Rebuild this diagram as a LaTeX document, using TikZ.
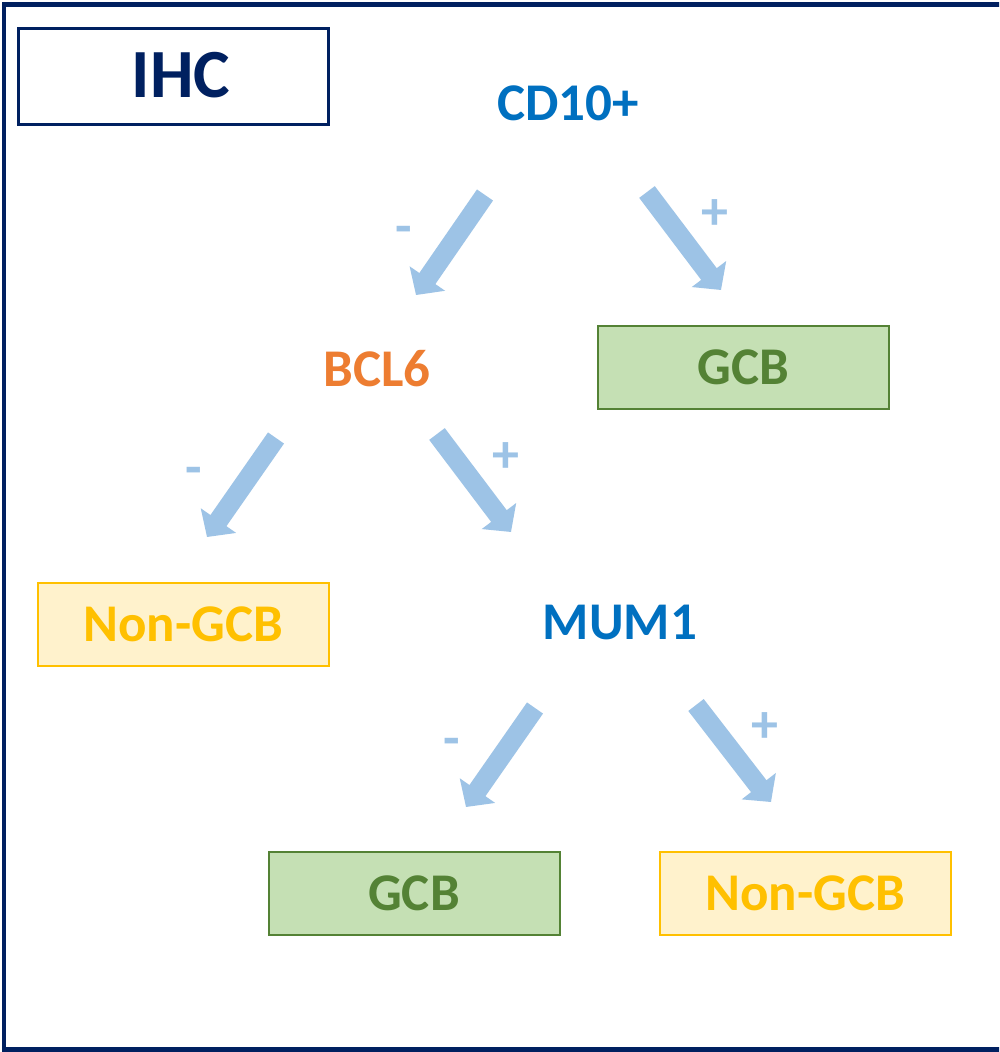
\documentclass[tikz,border=0pt]{standalone}
\usepackage{fontspec}
\setmainfont{Carlito}
\usetikzlibrary{arrows.meta}
\definecolor{navy}{HTML}{002060}
\definecolor{mblue}{HTML}{0070C0}
\definecolor{morange}{HTML}{ED7D31}
\definecolor{gline}{HTML}{548235}
\definecolor{gfill}{HTML}{C5E0B4}
\definecolor{yline}{HTML}{FFC000}
\definecolor{yfill}{HTML}{FFF2CC}
\definecolor{arrowblue}{HTML}{9DC3E6}
\tikzset{
  lbl/.style={inner sep=0pt, font=\bfseries\fontsize{53}{60}\selectfont},
  gcbbox/.style={lbl, draw=gline, fill=gfill, text=gline, line width=2pt, minimum width=291pt, minimum height=83pt},
  nonbox/.style={lbl, draw=yline, fill=yfill, text=yline, line width=2pt, minimum width=291pt, minimum height=83pt},
  bigarrow/.style={draw=arrowblue, line width=19.5pt, line cap=butt, -{Triangle[length=20pt,width=42pt]}},
  sign/.style={inner sep=0pt, text=arrowblue, font=\bfseries\fontsize{54}{60}\selectfont}
}
\begin{document}
\begin{tikzpicture}[x=1pt,y=-1pt]
\clip (0,0) rectangle (999,1052);
\fill[white] (0,0) rectangle (999,1052);
\draw[navy, line width=4.5pt] (4,4.5) rectangle (1012,1049.5);
\node[draw=navy, line width=3pt, minimum width=310pt, minimum height=96pt, inner sep=0pt] (ihcbox) at (173.5,76) {};
\node[lbl, text=navy, font=\bfseries\fontsize{69}{76}\selectfont] (ihc) at (181,75) {IHC};
\node[lbl, text=mblue] (cd10) at (568,103) {CD10+};
\node[lbl, text=morange] (bcl6) at (377,369) {BCL6};
\node[lbl, text=mblue] (mum1) at (620,622) {MUM1};
\node[gcbbox] (gcb1) at (743.5,367.5) {GCB};
\node[nonbox] (non1) at (183,624.5) {Non-GCB};
\node[gcbbox] (gcb2) at (414,893) {GCB};
\node[nonbox] (non2) at (805,893) {Non-GCB};
% arrow end points
\coordinate (a1s) at (485,195); \coordinate (a1e) at (416,295);
\coordinate (a2s) at (647,192); \coordinate (a2e) at (721,290);
\coordinate (a3s) at (276,438); \coordinate (a3e) at (207,537);
\coordinate (a4s) at (437,434); \coordinate (a4e) at (511,532);
\coordinate (a5s) at (535,708); \coordinate (a5e) at (466,807);
\coordinate (a6s) at (696,705); \coordinate (a6e) at (771,802);
\draw[bigarrow] (a1s) -- (a1e);
\draw[bigarrow] (a2s) -- (a2e);
\draw[bigarrow] (a3s) -- (a3e);
\draw[bigarrow] (a4s) -- (a4e);
\draw[bigarrow] (a5s) -- (a5e);
\draw[bigarrow] (a6s) -- (a6e);
\node[sign] (s1) at (404,235) {-};
\node[sign] (s2) at (715,215) {+};
\node[sign] (s3) at (194,476) {-};
\node[sign] (s4) at (506,458) {+};
\node[sign] (s5) at (452,747) {-};
\node[sign] (s6) at (765,728) {+};
\end{tikzpicture}
\end{document}
